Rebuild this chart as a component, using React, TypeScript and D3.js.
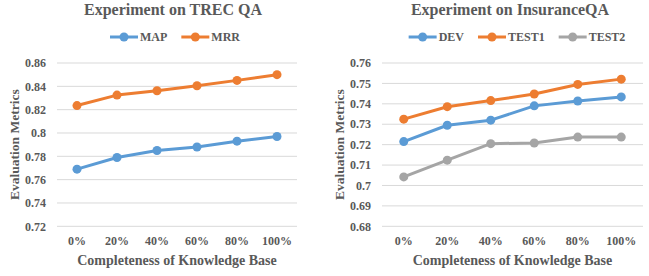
import { useRef, useEffect } from 'react';
import * as d3 from 'd3';

const categories = ['0%', '20%', '40%', '60%', '80%', '100%'];

// TREC QA
const mapValues = [0.769, 0.779, 0.785, 0.788, 0.793, 0.797];
const mrrValues = [0.8235, 0.8325, 0.8362, 0.8405, 0.8451, 0.85];
const trecTicks = [0.72, 0.74, 0.76, 0.78, 0.8, 0.82, 0.84, 0.86];

// InsuranceQA
const devValues = [0.7215, 0.7295, 0.732, 0.739, 0.7414, 0.7434];
const test1Values = [0.7325, 0.7386, 0.7416, 0.7448, 0.7495, 0.7521];
const test2Values = [0.7042, 0.7124, 0.7205, 0.7208, 0.7237, 0.7237];
const insTicks = [0.68, 0.69, 0.7, 0.71, 0.72, 0.73, 0.74, 0.75, 0.76];

const BLUE = '#5B9BD5';
const ORANGE = '#ED7D31';
const GRAY = '#A5A5A5';
const TEXT = '#595959';
const FONT = "'Liberation Serif', 'DejaVu Serif', serif";

function label(sel, size) {
  return sel
    .style('font-family', FONT)
    .style('font-size', size + 'px')
    .style('font-weight', 'bold')
    .attr('fill', TEXT);
}

function drawPanel(svg, opts) {
  const { left, right, top, bottom, ticks, series, title, titleX, legendX, ylabelX } = opts;
  const g = svg.append('g');

  const x = d3.scaleBand().domain(categories).range([left, right]);
  const y = d3.scaleLinear().domain([ticks[0], ticks[ticks.length - 1]]).range([bottom, top]);

  // gridlines
  g.selectAll('line.grid')
    .data(ticks)
    .join('line')
    .attr('x1', left)
    .attr('x2', right)
    .attr('y1', d => y(d))
    .attr('y2', d => y(d))
    .attr('stroke', '#D9D9D9')
    .attr('stroke-width', 1);

  // y tick labels
  g.selectAll('text.ytick')
    .data(ticks)
    .join('text')
    .attr('x', left - 11)
    .attr('y', d => y(d))
    .attr('dy', '0.35em')
    .attr('text-anchor', 'end')
    .call(label, 12)
    .text(d => String(+d.toFixed(2)));

  // x tick labels
  g.selectAll('text.xtick')
    .data(categories)
    .join('text')
    .attr('x', d => x(d) + x.bandwidth() / 2)
    .attr('y', 245)
    .attr('text-anchor', 'middle')
    .call(label, 12)
    .text(d => d);

  // axis titles
  g.append('text')
    .attr('x', (left + right) / 2)
    .attr('y', 265)
    .attr('text-anchor', 'middle')
    .call(label, 14)
    .text('Completeness of Knowledge Base');

  g.append('text')
    .attr('transform', `translate(${ylabelX},${(top + bottom) / 2}) rotate(-90)`)
    .attr('text-anchor', 'middle')
    .attr('dy', '0.35em')
    .call(label, 13.5)
    .text('Evaluation Metrics');

  // title
  g.append('text')
    .attr('x', titleX)
    .attr('y', 15)
    .attr('text-anchor', 'middle')
    .call(label, 16)
    .text(title);

  // lines
  const line = d3.line()
    .x((d, i) => x(categories[i]) + x.bandwidth() / 2)
    .y(d => y(d));

  series.forEach(s => {
    g.append('path')
      .datum(s.values)
      .attr('d', line)
      .attr('fill', 'none')
      .attr('stroke', s.color)
      .attr('stroke-width', 3)
      .attr('stroke-linejoin', 'round');
    g.selectAll(null)
      .data(s.values)
      .join('circle')
      .attr('cx', (d, i) => x(categories[i]) + x.bandwidth() / 2)
      .attr('cy', d => y(d))
      .attr('r', 4.5)
      .attr('fill', s.color);
  });

  // legend
  const lg = g.append('g');
  let cx = 0;
  series.forEach(s => {
    const item = lg.append('g').attr('transform', `translate(${cx},0)`);
    item.append('line').attr('x1', 0).attr('x2', 28).attr('y1', 0).attr('y2', 0)
      .attr('stroke', s.color).attr('stroke-width', 3);
    item.append('circle').attr('cx', 14).attr('cy', 0).attr('r', 4.5).attr('fill', s.color);
    const t = item.append('text')
      .attr('x', 30)
      .attr('dy', '0.35em')
      .call(label, 12)
      .text(s.name);
    const w = t.node().getComputedTextLength();
    cx += 30 + w + 14;
  });
  const total = cx - 14;
  lg.attr('transform', `translate(${legendX - total / 2},37)`);
}

export default function App() {
  const svgRef = useRef(null);

  useEffect(() => {
    const svg = d3.select(svgRef.current);
    svg.selectAll('*').remove();

    drawPanel(svg, {
      left: 57, right: 297, top: 63, bottom: 226.3,
      ticks: trecTicks,
      title: 'Experiment on TREC QA',
      titleX: 173, legendX: 175, ylabelX: 14,
      series: [
        { name: 'MAP', values: mapValues, color: BLUE },
        { name: 'MRR', values: mrrValues, color: ORANGE },
      ],
    });

    drawPanel(svg, {
      left: 382, right: 643, top: 63, bottom: 226.3,
      ticks: insTicks,
      title: 'Experiment on InsuranceQA',
      titleX: 510, legendX: 517, ylabelX: 339,
      series: [
        { name: 'DEV', values: devValues, color: BLUE },
        { name: 'TEST1', values: test1Values, color: ORANGE },
        { name: 'TEST2', values: test2Values, color: GRAY },
      ],
    });
  }, []);

  return (
    <svg
      ref={svgRef}
      width={649}
      height={276}
      style={{ position: 'absolute', left: 0, top: 0, background: '#fff' }}
    />
  );
}
